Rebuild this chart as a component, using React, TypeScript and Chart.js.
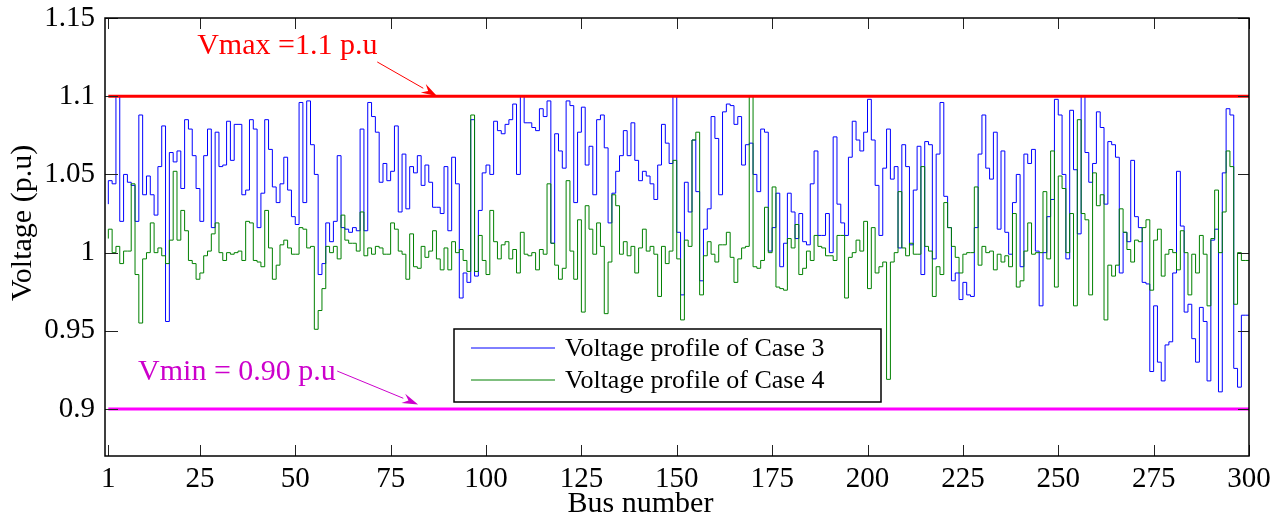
import React, { useEffect, useRef } from "react";
import { Chart, registerables } from "chart.js";
Chart.register(...registerables);

const busNumbers: number[] = Array.from({ length: 300 }, (_, i) => i + 1);

const case3: number[] = [
  1.031,1.046,1.044,1.100,1.020,1.050,1.045,1.043,1.020,1.088,
  1.037,1.049,1.037,1.024,1.055,1.081,0.956,1.064,1.058,1.065,
  1.041,1.085,1.079,1.062,1.041,1.020,1.062,1.079,1.016,1.077,
  1.055,1.056,1.084,1.059,1.082,1.082,1.037,1.040,1.085,1.079,
  1.016,1.038,1.085,1.066,1.042,1.032,1.044,1.061,1.040,1.023,
  1.018,1.096,1.032,1.097,1.069,1.050,0.986,0.993,1.019,1.007,
  1.020,1.062,1.016,1.015,1.013,1.016,1.014,1.079,1.014,1.096,
  1.087,1.077,1.045,1.057,1.046,1.052,1.081,1.026,1.063,1.028,
  1.055,1.051,1.062,1.043,1.056,1.045,1.029,1.029,1.025,1.055,
  1.014,1.061,1.044,0.971,0.987,0.981,1.085,0.985,1.027,1.051,
  1.056,1.050,1.084,1.078,1.076,1.082,1.085,1.095,1.050,1.100,
  1.083,1.083,1.080,1.078,1.092,1.087,1.097,1.006,1.076,1.065,
  1.054,1.097,1.094,1.032,1.077,1.093,1.056,1.068,1.037,1.085,
  1.088,1.067,1.019,1.038,1.052,1.062,1.078,1.062,1.083,1.059,
  1.046,1.052,1.049,1.044,1.034,1.056,1.082,1.070,1.057,1.100,
  1.013,0.973,1.045,1.026,1.072,1.039,0.982,1.015,1.028,1.087,
  1.073,1.037,1.090,1.095,1.094,1.082,1.087,1.056,1.069,1.070,
  1.050,1.039,1.079,1.077,1.001,1.016,1.038,0.991,1.006,1.038,
  1.026,1.009,1.025,1.007,1.005,1.044,1.065,1.011,1.011,1.025,
  1.000,1.074,1.031,1.019,1.011,1.061,1.084,1.072,1.065,1.077,
  1.098,1.072,1.043,1.011,1.054,1.079,1.047,1.055,1.003,1.069,
  1.055,1.005,1.040,1.068,0.986,1.071,1.069,0.996,1.063,1.096,
  1.036,1.016,0.982,0.987,0.970,0.981,0.973,0.972,1.016,1.063,
  1.088,1.054,1.047,1.077,1.015,1.065,1.013,0.999,1.032,1.050,
  0.991,1.063,1.057,1.066,1.001,0.966,1.000,1.023,1.034,1.098,
  1.088,1.050,0.996,1.091,1.053,1.012,1.100,1.064,1.045,1.057,
  1.090,1.080,1.031,1.071,1.069,1.061,0.987,1.013,1.007,1.059,
  1.023,1.016,0.981,0.980,0.924,0.966,0.930,0.918,0.941,0.943,
  0.987,1.052,1.017,0.962,0.967,0.945,0.930,0.965,0.956,0.918,
  1.008,1.015,0.911,1.051,1.092,1.088,0.926,0.914,0.960,0.960,
];

const case4: number[] = [
  1.009,1.015,1.000,1.004,0.993,1.001,1.001,1.044,0.986,0.955,
  0.996,1.000,1.019,1.000,1.003,0.998,0.993,1.008,1.052,1.008,
  1.027,1.014,0.995,0.993,0.983,0.987,0.998,1.001,1.012,1.019,
  1.000,0.995,1.000,0.999,1.000,1.001,0.995,1.020,1.019,0.995,
  0.994,0.991,1.027,1.003,0.983,0.992,1.005,1.008,1.003,0.999,
  0.999,1.016,1.015,1.003,1.004,0.951,0.963,0.977,1.004,1.000,
  1.004,0.996,1.024,1.008,1.006,1.006,1.001,1.026,0.998,1.003,
  0.999,1.004,1.003,0.999,0.999,1.019,1.015,1.001,0.999,0.983,
  1.012,0.991,0.990,1.004,0.997,1.001,1.014,0.996,0.989,1.003,
  0.989,1.007,1.000,1.002,0.995,0.988,1.088,0.988,1.011,0.995,
  0.986,1.027,1.007,0.996,1.005,1.007,0.996,1.002,0.987,1.013,
  0.999,0.998,1.000,0.989,1.002,0.999,1.044,1.006,0.992,0.983,
  0.990,1.046,1.001,0.983,1.021,0.962,1.030,1.015,0.999,1.019,
  1.004,0.961,0.994,1.037,1.030,0.999,1.007,0.998,1.004,0.987,
  1.003,1.015,1.001,1.004,0.999,0.972,1.004,0.993,1.001,1.059,
  0.996,0.957,1.008,1.004,1.072,1.077,0.973,0.998,1.007,0.999,
  0.994,1.005,1.005,1.013,0.997,0.981,0.996,1.003,1.004,1.100,
  0.991,0.990,0.995,1.029,1.000,1.042,0.978,0.977,0.976,1.009,
  1.003,1.018,0.986,0.990,1.001,0.995,1.011,1.004,1.003,0.998,
  0.998,0.995,1.011,1.011,0.971,0.997,1.000,1.008,1.001,1.020,
  0.977,1.016,0.987,0.991,0.994,0.919,0.994,1.000,1.039,1.003,
  0.998,1.006,0.999,0.999,1.055,1.004,1.001,0.972,0.991,0.986,
  1.032,1.016,1.004,0.997,0.987,0.999,1.000,1.000,1.042,0.992,
  1.004,1.000,1.001,0.989,0.999,0.994,0.998,0.991,1.025,0.978,
  0.982,1.001,1.019,0.999,1.000,1.000,1.039,0.996,1.065,0.978,
  1.049,1.041,1.000,1.025,0.966,1.085,1.025,1.021,0.973,1.051,
  1.030,1.037,0.957,0.992,0.985,0.992,1.028,1.013,1.002,0.994,
  1.008,1.007,1.016,1.021,0.976,1.008,1.015,0.985,0.999,1.002,
  1.000,0.989,1.014,1.000,0.973,0.999,0.987,1.011,0.999,0.966,
  1.009,1.040,1.000,1.026,1.065,1.055,0.967,1.000,0.995,0.995,
];

const xTickValues: number[] = [1, 25, 50, 75, 100, 125, 150, 175, 200, 225, 250, 275, 300];
const yTickValues: number[] = [0.9, 0.95, 1, 1.05, 1.1, 1.15];
const vmaxLimit = 1.1;
const vminLimit = 0.9;
const seriesLabels: string[] = ["Voltage profile of Case 3", "Voltage profile of Case 4"];
const xTitle = "Bus number";
const yTitle = "Voltage (p.u)";
const vmaxText = "Vmax =1.1 p.u";
const vminText = "Vmin = 0.90 p.u";

const FONT = '"Liberation Serif", "Times New Roman", serif';

export default function App() {
  const ref = useRef<HTMLCanvasElement>(null);

  useEffect(() => {
    document.body.style.margin = "0";
    const canvas = ref.current!;

    const decor = {
      id: "decor",
      afterDraw(chart: any) {
        const { ctx, chartArea: a, scales } = chart;
        const xs = scales.x;
        const ys = scales.y;
        const ln = (x1: number, y1: number, x2: number, y2: number) => {
          ctx.beginPath();
          ctx.moveTo(x1, y1);
          ctx.lineTo(x2, y2);
          ctx.stroke();
        };
        ctx.save();
        // inward ticks
        ctx.strokeStyle = "#222";
        ctx.lineWidth = 1;
        for (const v of xTickValues) {
          const px = Math.round(xs.getPixelForValue(v)) + 0.5;
          ln(px, a.bottom, px, a.bottom - 11);
          ln(px, a.top, px, a.top + 11);
        }
        for (const v of yTickValues) {
          const py = Math.round(ys.getPixelForValue(v)) + 0.5;
          ln(a.left, py, a.left + 13, py);
          ln(a.right, py, a.right - 11, py);
        }
        // box
        ctx.strokeStyle = "#000";
        ctx.lineWidth = 1.5;
        ctx.strokeRect(a.left, a.top, a.right - a.left, a.bottom - a.top);

        // axis titles
        ctx.fillStyle = "#000";
        ctx.font = `30px ${FONT}`;
        ctx.textAlign = "center";
        ctx.textBaseline = "alphabetic";
        ctx.fillText(xTitle, xs.getPixelForValue(140.5), 512);
        ctx.save();
        ctx.translate(23, ys.getPixelForValue(1.019));
        ctx.rotate(-Math.PI / 2);
        ctx.textBaseline = "middle";
        ctx.fillText(yTitle, 0, 0);
        ctx.restore();

        // annotations with arrows
        const arrow = (x1: number, y1: number, x2: number, y2: number, color: string) => {
          ctx.strokeStyle = color;
          ctx.fillStyle = color;
          ctx.lineWidth = 1;
          const ang = Math.atan2(y2 - y1, x2 - x1);
          const L = 16, W = 5;
          const bx = x2 - L * Math.cos(ang);
          const by = y2 - L * Math.sin(ang);
          ln(x1, y1, bx, by);
          ctx.beginPath();
          ctx.moveTo(x2, y2);
          ctx.lineTo(bx + W * Math.sin(ang), by - W * Math.cos(ang));
          ctx.lineTo(bx + 0.35 * L * Math.cos(ang), by + 0.35 * L * Math.sin(ang));
          ctx.lineTo(bx - W * Math.sin(ang), by + W * Math.cos(ang));
          ctx.closePath();
          ctx.fill();
        };
        ctx.font = `30px ${FONT}`;
        ctx.textAlign = "left";
        ctx.textBaseline = "alphabetic";
        ctx.fillStyle = "#ff0000";
        ctx.fillText(vmaxText, xs.getPixelForValue(24.3), ys.getPixelForValue(1.127));
        arrow(xs.getPixelForValue(71.5), ys.getPixelForValue(1.1219), xs.getPixelForValue(87.2), ys.getPixelForValue(vmaxLimit), "#ff0000");
        ctx.fillStyle = "#cc00cc";
        ctx.fillText(vminText, xs.getPixelForValue(8.8), ys.getPixelForValue(0.9185));
        arrow(xs.getPixelForValue(61), ys.getPixelForValue(0.9243), xs.getPixelForValue(82.2), ys.getPixelForValue(0.903), "#cc00cc");

        // legend
        const lx = Math.round(xs.getPixelForValue(91.7)), ly = Math.round(ys.getPixelForValue(0.9513)), lw = 427, lh = 73;
        ctx.fillStyle = "#fff";
        ctx.fillRect(lx, ly, lw, lh);
        ctx.strokeStyle = "#000";
        ctx.lineWidth = 1.5;
        ctx.strokeRect(lx, ly, lw, lh);
        const colors = ["#0000ff", "#008000"];
        ctx.font = `26px ${FONT}`;
        ctx.textBaseline = "middle";
        seriesLabels.forEach((lab, i) => {
          const yy = ly + 19 + i * 32;
          ctx.strokeStyle = colors[i];
          ctx.lineWidth = 1;
          ln(lx + 17, yy, lx + 101, yy);
          ctx.fillStyle = "#000";
          ctx.fillText(lab, lx + 111, yy + 1);
        });
        ctx.restore();
      },
    };

    const chart = new Chart(canvas, {
      type: "line",
      data: {
        datasets: [
          {
            label: "Vmax",
            data: [{ x: 1, y: vmaxLimit }, { x: 300, y: vmaxLimit }],
            borderColor: "#ff0000",
            borderWidth: 3,
            pointRadius: 0,
          },
          {
            label: "Vmin",
            data: [{ x: 1, y: vminLimit }, { x: 300, y: vminLimit }],
            borderColor: "#ff00ff",
            borderWidth: 3,
            pointRadius: 0,
          },
          {
            label: seriesLabels[1],
            data: busNumbers.map((b, i) => ({ x: b, y: case4[i] })),
            borderColor: "#008000",
            borderWidth: 1,
            pointRadius: 0,
            stepped: "after",
          },
          {
            label: seriesLabels[0],
            data: busNumbers.map((b, i) => ({ x: b, y: case3[i] })),
            borderColor: "#0000ff",
            borderWidth: 1,
            pointRadius: 0,
            stepped: "after",
          },
        ],
      },
      options: {
        animation: false,
        responsive: false,
        devicePixelRatio: 1,
        parsing: false,
        normalized: true,
        layout: { padding: { top: 18, right: 37, left: 0, bottom: 0 } },
        plugins: { legend: { display: false }, tooltip: { enabled: false } },
        scales: {
          x: {
            type: "linear",
            min: 0.13,
            max: 300,
            grid: { display: false, drawTicks: false },
            border: { display: false },
            afterBuildTicks: (s: any) => {
              s.ticks = xTickValues.map((v) => ({ value: v }));
            },
            afterFit: (s: any) => {
              s.height = 59;
              s.paddingLeft = 0;
              s.paddingRight = 0;
            },
            ticks: {
              color: "#000",
              font: { family: FONT, size: 29 },
              padding: 6,
              maxRotation: 0,
              autoSkip: false,
              callback: (v: any) => String(v),
            },
          },
          y: {
            type: "linear",
            min: 0.87,
            max: 1.15,
            grid: { display: false, drawTicks: false },
            border: { display: false },
            afterBuildTicks: (s: any) => {
              s.ticks = yTickValues.map((v) => ({ value: v }));
            },
            afterFit: (s: any) => {
              s.width = 105;
              s.paddingTop = 0;
              s.paddingBottom = 0;
            },
            ticks: {
              color: "#000",
              font: { family: FONT, size: 29 },
              padding: 10,
              autoSkip: false,
              callback: (v: any) => String(v),
            },
          },
        },
      },
      plugins: [decor],
    } as any);

    return () => chart.destroy();
  }, []);

  return (
    <div style={{ position: "fixed", left: 0, top: 0, width: 1286, height: 515, background: "#fff" }}>
      <canvas ref={ref} width={1286} height={515} style={{ display: "block" }} />
    </div>
  );
}
